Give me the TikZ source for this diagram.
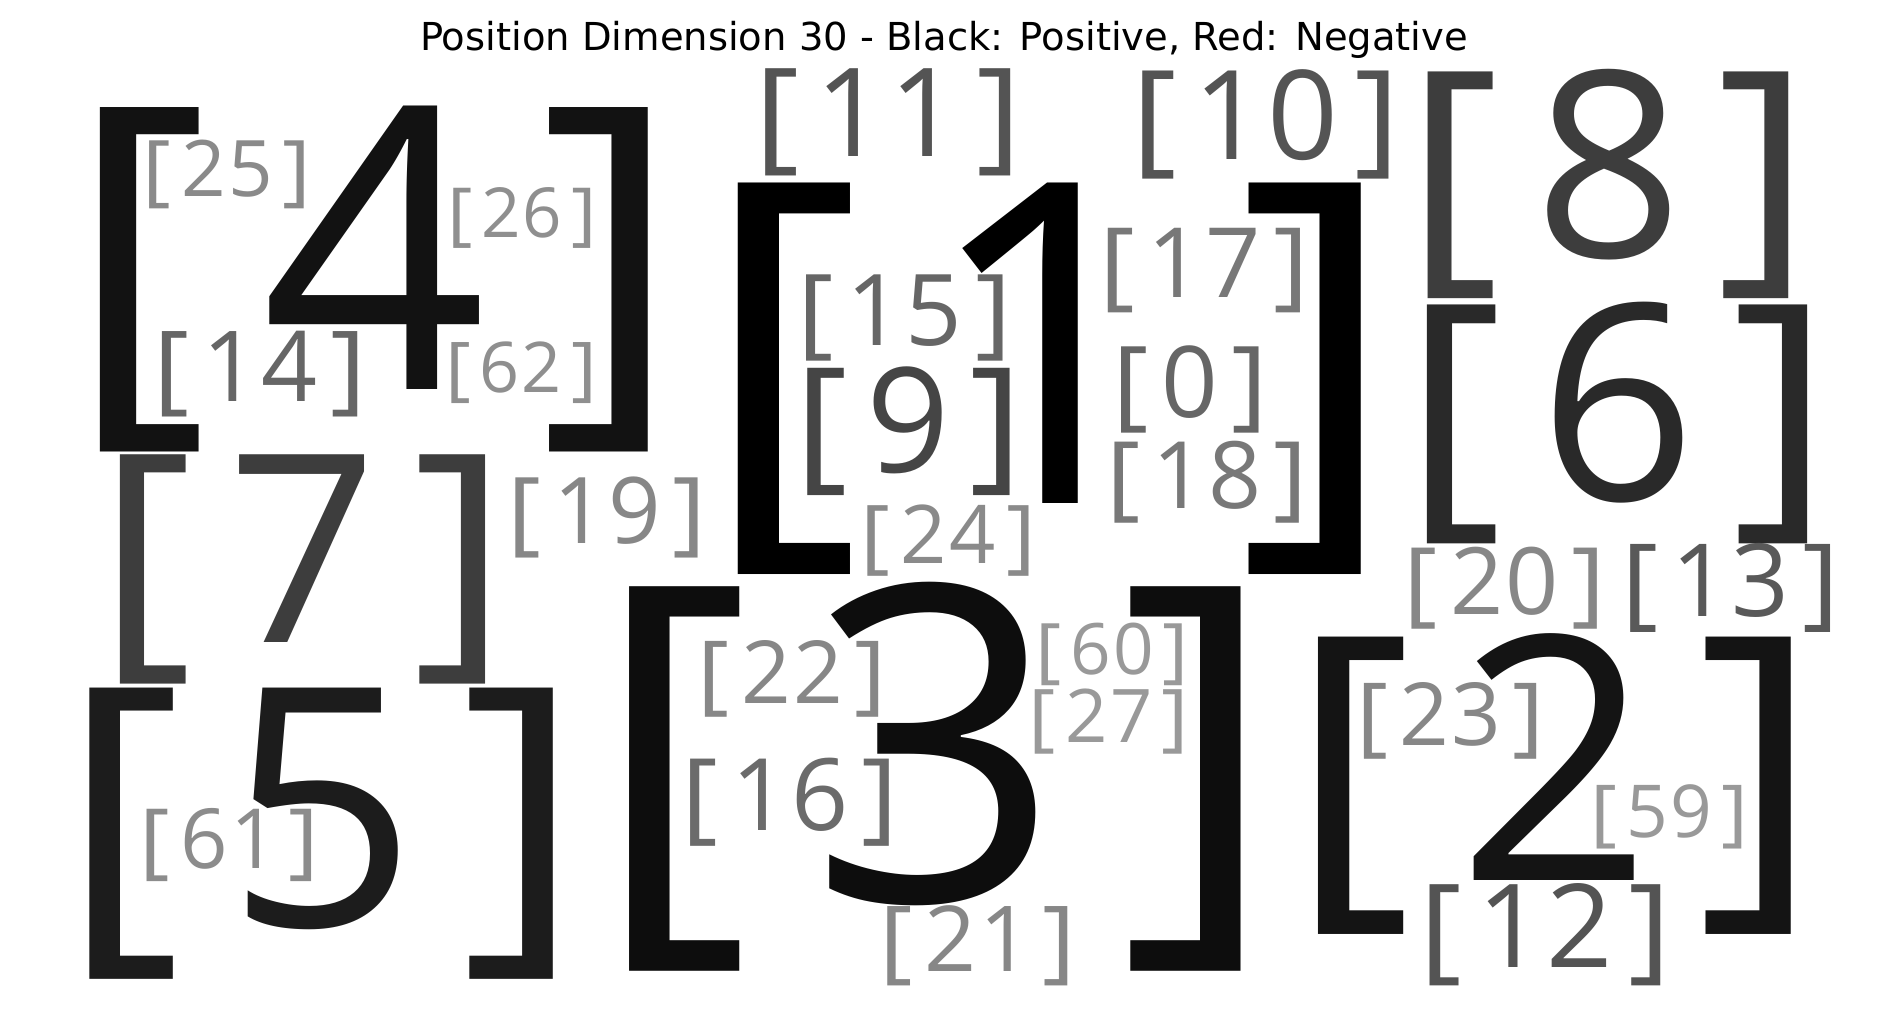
\documentclass[tikz,border=0pt]{standalone}
\usepackage{fontspec}
\usepackage{xcolor}
\usepackage{graphicx}
\usepackage{tikz}
\newfontfamily\wcfont{Open Sans}
\newfontfamily\ttlfont{DejaVu Sans}
%monospaced cells for the word cloud labels
\newcommand\lbr{\makebox[.6em][c]{\scalebox{1.12}[1]{[}}}
\newcommand\rbr{\makebox[.6em][c]{\scalebox{1.12}[1]{]}}}
\newcommand\wrd[1]{\lbr\wdigits#1\relax\rbr}
\def\wdigits#1{\ifx#1\relax\else\makebox[.6em][c]{#1}\expandafter\wdigits\fi}

\begin{document}
\begin{tikzpicture}[x=1pt,y=-1pt]

\tikzset{word/.style={inner sep=0pt, outer sep=0pt, anchor=base},
ttl/.style={inner sep=0pt, anchor=base, font=\ttlfont\fontsize{38.5}{40}\selectfont}}

\fill[white] (0,0) rectangle (1888,1010);

\node[ttl] (title) at (944,50) {Position Dimension 30 - Black: Positive, Red: Negative};

%label/x/baseline/size/black percentage
\foreach \w/\x/\y/\s/\p in {1/1050/503/449/100, 3/935.5/901/441/95, 4/374/389/395/93, 2/1555/880/341/92,
  5/321.5/926/334/89, 6/1617.5/500/274/84, 8/1608.5/257/260/76, 7/303/642/263/76,
  9/908.7/472/146/73, 11/888/156/123/67, 10/1266/159/124/67, 12/1545/967/116/67,
  13/1730.5/616/101/65, 14/260/401/98/60, 15/904.4/345/99/60, 0/1190/417/99/60,
  16/790/830/100/58, 17/1204.5/297/97/53, 18/1207/508/93/53, 19/607/543/92/47,
  20/1504.5/614/93/47, 21/977.8/971/91/47, 22/792/703/87/47, 23/1450.5/745/87/47,
  24/948.3/563/81/46, 25/227/196/78/46, 26/522/237/69/44, 62/521/392/70/44,
  61/229/868/83/45, 60/1112/674/71/40, 27/1109/742/74/40, 59/1669.5/837/73/40}
  \node[word, text=black!\p, font=\wcfont\fontsize{\s}{\s}\selectfont] (w\w) at (\x,\y) {\expandafter\wrd\expandafter{\w}};

\end{tikzpicture}
\end{document}
